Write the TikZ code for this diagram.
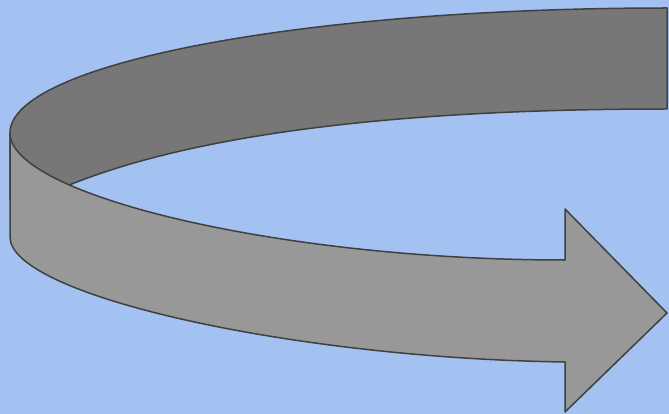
\documentclass[tikz,border=0pt]{standalone}
\usetikzlibrary{calc}
\definecolor{bgblue}{RGB}{163,194,242}
\definecolor{topgray}{RGB}{119,119,119}
\definecolor{frontgray}{RGB}{152,152,152}
\definecolor{edgegray}{RGB}{64,64,64}
\tikzset{
  band/.style={draw=edgegray, line width=1.5pt, line join=round},
}
\begin{document}
\begin{tikzpicture}[x=1pt,y=-1pt]
  \fill[bgblue] (0,0) rectangle (669,414);
  \useasboundingbox (0,0) rectangle (669,414);
  % top (inner) band
  \coordinate (tr) at (667,8);
  \coordinate (br) at (667,109);
  \coordinate (lt) at (10,133);
  \coordinate (hid) at (40,198);
  \filldraw[band, fill=topgray]
    (tr) .. controls (304,8) and (10,63.5) .. (lt)
    -- (10,200) -- (hid)
    .. controls (190,125) and (450,109) .. (br) -- cycle;
  % front band with arrow head
  \coordinate (st) at (565,260);
  \coordinate (ht) at (565,209);
  \coordinate (tip) at (667,313);
  \coordinate (hb) at (565,412);
  \coordinate (sb) at (565,362);
  \coordinate (lb) at (10,237);
  \filldraw[band, fill=frontgray]
    (lt) .. controls (10,195) and (280,260) .. (st)
    -- (ht) -- (tip) -- (hb) -- (sb)
    .. controls (290,358) and (10,295) .. (lb) -- cycle;
\end{tikzpicture}
\end{document}
